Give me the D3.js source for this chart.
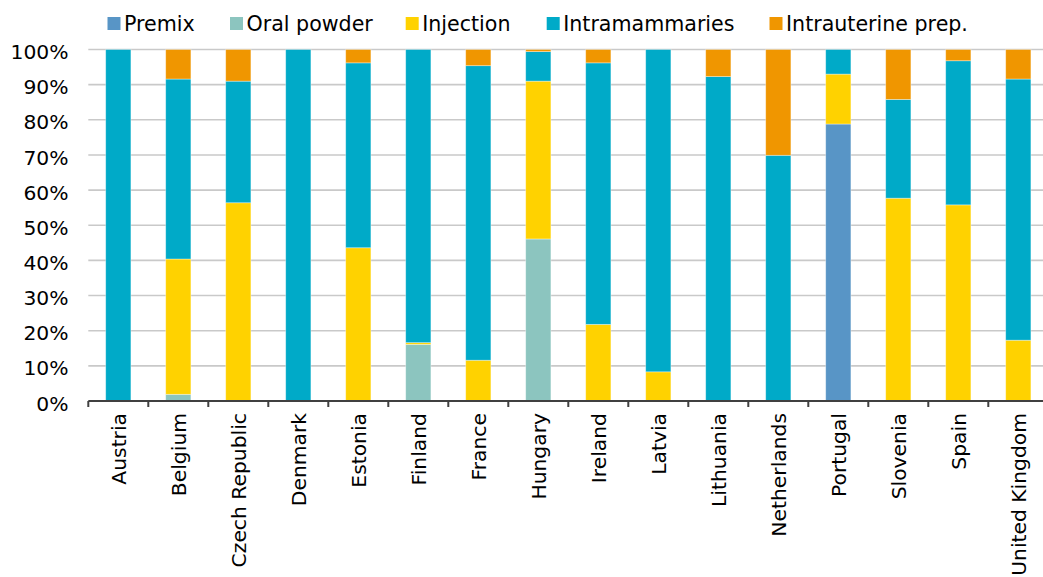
<!DOCTYPE html>
<html>
<head>
<meta charset="utf-8">
<script src="https://cdn.jsdelivr.net/npm/d3@7"></script>
<style>
  html, body { margin: 0; padding: 0; background: #fff; }
  svg { display: block; font-family: "DejaVu Sans", Verdana, sans-serif; }
</style>
</head>
<body>
<svg id="chart" width="1043" height="577"></svg>
<script>
// Share of each formulation per country (percent, stacked to 100)
const countries = ["Austria", "Belgium", "Czech Republic", "Denmark", "Estonia", "Finland", "France", "Hungary",
  "Ireland", "Latvia", "Lithuania", "Netherlands", "Portugal", "Slovenia", "Spain", "United Kingdom"];
const seriesNames = ["Premix", "Oral powder", "Injection", "Intramammaries", "Intrauterine prep."];
const seriesColors = ["#5895c6", "#8cc5bf", "#ffd200", "#00aac8", "#f09600"];

const premix         = [0, 0, 0, 0, 0, 0, 0, 0, 0, 0, 0, 0, 78.8, 0, 0, 0];
const oralPowder     = [0, 1.9, 0, 0, 0, 16.1, 0, 46.1, 0, 0, 0, 0, 0, 0, 0, 0];
const injection      = [0, 38.5, 56.4, 0, 43.6, 0.5, 11.6, 44.9, 21.8, 8.3, 0, 0, 14.2, 57.7, 55.8, 17.3];
const intramammaries = [100, 51.2, 34.6, 100, 52.6, 83.4, 83.8, 8.4, 74.4, 91.7, 92.3, 69.9, 7.0, 28.1, 41.0, 74.3];
const intrauterine   = [0, 8.4, 9.0, 0, 3.8, 0, 4.6, 0.6, 3.8, 0, 7.7, 30.1, 0, 14.2, 3.2, 8.4];
const yTicks = [0, 10, 20, 30, 40, 50, 60, 70, 80, 90, 100];

const seriesValues = [premix, oralPowder, injection, intramammaries, intrauterine];
const rows = countries.map((c, i) => {
  const r = { country: c };
  seriesNames.forEach((s, k) => { r[s] = seriesValues[k][i]; });
  return r;
});

const svg = d3.select("#chart");
const plotLeft = 88.3, plotRight = 1048.3, plotTop = 49.5, plotBottom = 401;

const x = d3.scaleBand().domain(countries).range([plotLeft, plotRight]).paddingInner(0.58).paddingOuter(0.29);
const y = d3.scaleLinear().domain([0, 100]).range([plotBottom, plotTop]);

// horizontal gridlines
svg.append("g")
  .selectAll("line")
  .data(yTicks.filter(t => t > 0))
  .join("line")
  .attr("x1", plotLeft).attr("x2", 1043)
  .attr("y1", d => y(d)).attr("y2", d => y(d))
  .attr("stroke", "#c9c9c9").attr("stroke-width", 1.6);

// y tick labels
svg.append("g")
  .selectAll("text")
  .data(yTicks)
  .join("text")
  .attr("x", 68.5)
  .attr("y", d => y(d) + 2.3)
  .attr("dy", "0.36em")
  .attr("text-anchor", "end")
  .attr("font-size", 20.3)
  .attr("fill", "#000")
  .text(d => d + "%");

// stacked bars
const stacked = d3.stack().keys(seriesNames)(rows);
svg.append("g")
  .selectAll("g")
  .data(stacked)
  .join("g")
  .attr("fill", (d, i) => seriesColors[i])
  .selectAll("rect")
  .data(d => d.filter(p => p[1] - p[0] > 0))
  .join("rect")
  .attr("x", d => x(d.data.country))
  .attr("width", x.bandwidth())
  .attr("y", d => y(d[1]))
  .attr("height", d => y(d[0]) - y(d[1]))
  .attr("stroke", "#ffffff")
  .attr("stroke-opacity", 0.45)
  .attr("stroke-width", 0.8);

// x axis with ticks between categories
const xAxis = svg.append("g").attr("transform", `translate(0,${plotBottom})`);
xAxis.append("line")
  .attr("x1", plotLeft).attr("x2", plotRight)
  .attr("stroke", "#404040").attr("stroke-width", 2);
const step = x.step();
xAxis.selectAll("line.tick")
  .data(d3.range(countries.length + 1))
  .join("line")
  .attr("class", "tick")
  .attr("x1", i => plotLeft + i * step).attr("x2", i => plotLeft + i * step)
  .attr("y1", 0).attr("y2", 6)
  .attr("stroke", "#404040").attr("stroke-width", 2);

xAxis.selectAll("text")
  .data(countries)
  .join("text")
  .attr("transform", d => `translate(${x(d) + x.bandwidth() / 2},12) rotate(-90)`)
  .attr("text-anchor", "end")
  .attr("dy", "0.36em")
  .attr("font-size", 20.3)
  .attr("fill", "#000")
  .text(d => d);

// legend
const legendX = [107.5, 230, 405.7, 546.7, 769.5];
const legend = svg.append("g");
seriesNames.forEach((name, i) => {
  legend.append("rect")
    .attr("x", legendX[i]).attr("y", 17)
    .attr("width", 13).attr("height", 13)
    .attr("fill", seriesColors[i]);
  legend.append("text")
    .attr("x", legendX[i] + 16.5).attr("y", 24)
    .attr("dy", "0.36em")
    .attr("font-size", 20.6)
    .attr("fill", "#000")
    .text(name);
});
</script>
</body>
</html>
